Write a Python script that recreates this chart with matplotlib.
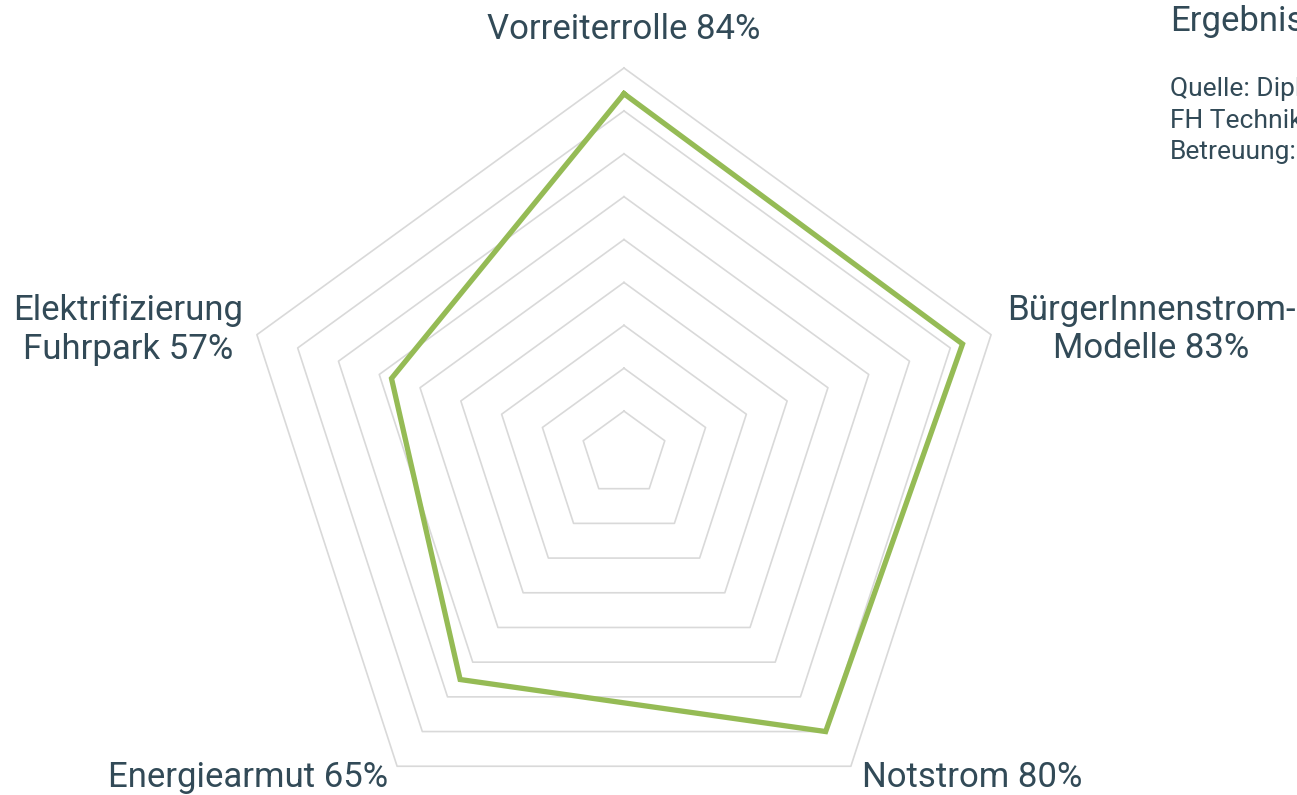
import numpy as np
import matplotlib
matplotlib.use("Agg")
from matplotlib import pyplot as plt

plt.rcParams['font.family'] = ['Roboto', 'DejaVu Sans']

# Daten
kategorien = ["Vorreiterrolle", "BürgerInnenstrom-\nModelle", "Notstrom",
              "Energiearmut", "Elektrifizierung\nFuhrpark"]
werte = [84, 83, 80, 65, 57]
ringe = [10, 20, 30, 40, 50, 60, 70, 80, 90]
titel = "Ergebnisse"
quelle = ["Quelle: Diplomarbeit", "FH Technikum Wien", "Betreuung:"]

textfarbe = "#324a57"
gruen = "#95bb55"
grau = "#d9d9d9"

fig = plt.figure(figsize=(12.97, 7.95), dpi=100)
ax = fig.add_axes([0.1835, -0.0566, 0.5952, 0.9711], projection='polar')
ax.set_theta_offset(np.pi / 2)
ax.set_theta_direction(-1)
ax.set_ylim(0, 90)
ax.set_axis_off()

n = len(kategorien)
winkel = np.linspace(0, 2 * np.pi, n, endpoint=False)
winkel_zu = np.append(winkel, winkel[0])

# Gitter (Fuenfecke)
for r in ringe:
    ax.plot(winkel_zu, [r] * (n + 1), color=grau, lw=1.2, clip_on=False, zorder=1)

# Datenlinie
ax.plot(winkel_zu, werte + [werte[0]], color=gruen, lw=3.8,
        solid_joinstyle='miter', clip_on=False, zorder=3)

# Beschriftung an den aeusseren Ecken, Versatz in Pixeln
ausrichtung = [("center", "baseline", (0, 29)),
               ("left", "center", (16, 5)),
               ("left", "baseline", (11, -21)),
               ("right", "baseline", (-9, -21)),
               ("right", "center", (-14, 5))]
for w, kat, v, (ha, va, off) in zip(winkel, kategorien, werte, ausrichtung):
    ax.annotate(f"{kat} {v}%", xy=(w, ringe[-1]), xytext=off,
                textcoords="offset pixels", ha=ha, va=va,
                multialignment="center", fontsize=25, color=textfarbe,
                linespacing=1.2, annotation_clip=False)

fig.text(1170 / 1297, 1 - 21 / 795, titel, ha="left", va="center",
         fontsize=25, color=textfarbe)
fig.text(1170 / 1297, 1 - 77 / 795, "\n".join(quelle), ha="left", va="top",
         fontsize=19, color=textfarbe, linespacing=1.4)

fig.savefig("out.png", dpi=100)
